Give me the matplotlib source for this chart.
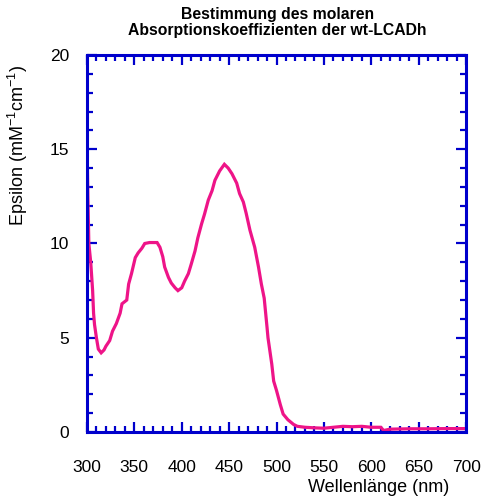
import matplotlib
matplotlib.use("Agg")
import matplotlib.pyplot as plt
from matplotlib.ticker import MultipleLocator

# Absorption spectrum of wt-LCADh (wavelength in nm, epsilon in mM^-1 cm^-1)
wavelength = [300, 301, 302, 304, 306, 307, 308, 310, 312, 315, 318, 320, 324,
              327, 331, 335, 337, 342, 344, 347, 351, 354, 358, 361, 366, 374,
              377, 380, 382, 386, 389, 393, 396, 400, 403, 407, 410, 414, 417,
              421, 424, 428, 432, 435, 440, 445, 449, 453, 458, 461, 465, 468,
              472, 477, 481, 484, 487, 490, 491, 493, 495, 497, 500, 504, 507,
              512, 518, 522, 530, 540, 550, 560, 570, 580, 590, 600, 610, 613,
              620, 640, 660, 680, 700]
epsilon = [15.6, 12.5, 10.0, 9.0, 7.5, 6.3, 5.7, 5.0, 4.4, 4.2, 4.35, 4.55, 4.85,
           5.35, 5.75, 6.3, 6.8, 7.0, 7.85, 8.4, 9.25, 9.5, 9.75, 10.0, 10.05, 10.05,
           9.8, 9.3, 8.75, 8.2, 7.9, 7.65, 7.5, 7.65, 8.0, 8.4, 8.9, 9.6, 10.3,
           11.05, 11.55, 12.3, 12.8, 13.35, 13.85, 14.2, 14.0, 13.7, 13.2, 12.65, 12.2, 11.6,
           10.7, 9.8, 8.75, 7.85, 7.1, 5.55, 5.0, 4.3, 3.6, 2.7, 2.2, 1.45, 0.95,
           0.65, 0.4, 0.3, 0.25, 0.22, 0.2, 0.25, 0.3, 0.28, 0.3, 0.25, 0.25, 0.08,
           0.15, 0.17, 0.17, 0.18, 0.18]

x_ticks = [300, 350, 400, 450, 500, 550, 600, 650, 700]
y_ticks = [0, 5, 10, 15, 20]

title_lines = ["Bestimmung des molaren", "Absorptionskoeffizienten der wt-LCADh"]
x_label = "Wellenlänge (nm)"
y_label = r"Epsilon (mM$^{\mathregular{-1}}$cm$^{\mathregular{-1}}$)"

axis_blue = "#0000CC"
line_pink = "#EE1488"

plt.rcParams["font.family"] = ["Liberation Sans", "DejaVu Sans"]
plt.rcParams["mathtext.default"] = "regular"

fig = plt.figure(figsize=(4.83, 4.99), dpi=100)
ax = fig.add_axes([0.180, 0.1343, 0.785, 0.7555])

ax.plot(wavelength, epsilon, color=line_pink, linewidth=2.3, solid_joinstyle="miter")

ax.set_xlim(300, 700)
ax.set_ylim(0, 20)
ax.set_xticks(x_ticks)
ax.set_yticks(y_ticks)
ax.xaxis.set_minor_locator(MultipleLocator(10))
ax.yaxis.set_minor_locator(MultipleLocator(1))

for side in ax.spines.values():
    side.set_color(axis_blue)
    side.set_linewidth(2.2)

ax.tick_params(which="both", direction="in", top=True, right=True,
               color=axis_blue, width=1.6, labelsize=12.5, labelcolor="black")
ax.tick_params(which="major", length=7.5)
ax.tick_params(which="minor", length=4)
ax.tick_params(axis="x", which="major", pad=20)
ax.tick_params(axis="y", which="major", pad=13)

ax.set_xlabel(x_label, fontsize=13)
ax.xaxis.set_label_coords(0.77, -0.125)
ax.set_ylabel(y_label, fontsize=13)
ax.yaxis.set_label_coords(-0.150, 0.76)

fig.text(0.575, 0.970, title_lines[0], ha="center", va="center",
         fontsize=11.3, fontweight="bold")
fig.text(0.575, 0.938, title_lines[1], ha="center", va="center",
         fontsize=11.3, fontweight="bold")

fig.savefig("out.png", dpi=100)
